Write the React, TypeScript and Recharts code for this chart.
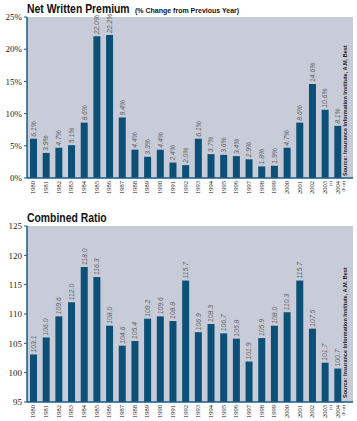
import { BarChart, Bar, XAxis, YAxis, CartesianGrid, LabelList } from 'recharts';

const years = [
  '1980', '1981', '1982', '1983', '1984', '1985', '1986', '1987', '1988', '1989',
  '1990', '1991', '1992', '1993', '1994', '1995', '1996', '1997', '1998', '1999',
  '2000', '2001', '2002', '2003', '2004',
];
const yearNotes = ['', '', '', '', '', '', '', '', '', '', '', '', '', '', '', '', '', '', '', '', '', '', '', '(e)', '(Fcst)'];

const premiumChange = [
  6.1, 3.9, 4.7, 5.1, 8.6, 22.0, 22.2, 9.4, 4.4, 3.3,
  4.4, 2.4, 2.0, 6.1, 3.7, 3.6, 3.4, 2.9, 1.8, 1.9,
  4.7, 8.6, 14.6, 10.6, 8.1,
];
const combinedRatio = [
  103.1, 106.0, 109.6, 112.0, 118.0, 116.3, 108.0, 104.6, 105.4, 109.2,
  109.6, 108.8, 115.7, 106.9, 108.3, 106.7, 105.8, 101.9, 105.9, 108.0,
  110.3, 115.7, 107.5, 101.7, 100.7,
];
const premiumTicks = [0, 5, 10, 15, 20, 25];
const ratioTicks = [95, 100, 105, 110, 115, 120, 125];

const premiumData = years.map((y, i) => ({ year: y, note: yearNotes[i], value: premiumChange[i] }));
const ratioData = years.map((y, i) => ({ year: y, note: yearNotes[i], value: combinedRatio[i] }));

const BAR = '#0c5078';
const BG = '#c8ccd8';
const EDGE = '#1b5a84';
const SERIF = '"Liberation Serif", "Times New Roman", serif';
const NARROW = '"Liberation Sans Narrow", "Liberation Sans", Arial, sans-serif';
const SOURCE = 'Source: Insurance Information Institute, A.M. Best';

// tick y arrives below the axis by tickSize + tickMargin, pull it back up
function YearTick(props: any) {
  const { x, y, payload, index } = props;
  const note = yearNotes[index];
  const ty = y - 5;
  return (
    <g>
      <text
        x={x}
        y={ty}
        transform={`rotate(-90 ${x} ${ty})`}
        dy={2}
        textAnchor="end"
        fontSize={6.5}
        fontFamily={SERIF}
        fill="#222"
      >
        {payload.value}
      </text>
      {note && (
        <text
          x={x + 5.5}
          y={ty}
          transform={`rotate(-90 ${x + 5.5} ${ty})`}
          dy={2}
          textAnchor="end"
          fontSize={4.5}
          fontFamily={SERIF}
          fill="#222"
        >
          {note}
        </text>
      )}
    </g>
  );
}

function makeValueLabel(suffix: string) {
  return (props: any) => {
    const { x, y, width, value } = props;
    const cx = x + width / 2;
    const ty = y - 2;
    return (
      <text
        x={cx}
        y={ty}
        dy={2.3}
        transform={`rotate(-90 ${cx} ${ty})`}
        textAnchor="start"
        fontSize={6.8}
        fontStyle="italic"
        fontFamily={NARROW}
        fill="#5f6266"
      >
        {value.toFixed(1) + suffix}
      </text>
    );
  };
}

interface PanelProps {
  data: Array<Record<string, any>>;
  height: number;
  top: number;
  bottom: number;
  domain: [number, number];
  ticks: number[];
  suffix: string;
}

function Panel({ data, height, top, bottom, domain, ticks, suffix }: PanelProps) {
  return (
    <BarChart
      width={357}
      height={height}
      data={data}
      margin={{ top, right: 4, left: 0, bottom }}
      barSize={7}
    >
      <CartesianGrid fill={BG} horizontal={false} vertical={false} />
      <XAxis
        dataKey="year"
        interval={0}
        height={20}
        padding={{ left: 0, right: 9 }}
        axisLine={{ stroke: EDGE, strokeWidth: 1.5 }}
        tickLine={false}
        tick={<YearTick />}
      />
      <XAxis xAxisId="top" orientation="top" dataKey="year" height={0} tick={false} tickLine={false} axisLine={{ stroke: EDGE, strokeWidth: 1.5 }} />
      <YAxis
        width={27}
        domain={domain}
        ticks={ticks}
        allowDataOverflow
        tickFormatter={(v) => `${v}${suffix}`}
        tick={{ fontSize: 9, fill: '#222', fontFamily: SERIF }}
        tickSize={3}
        tickLine={{ stroke: EDGE }}
        axisLine={{ stroke: EDGE, strokeWidth: 1.5 }}
      />
      <YAxis yAxisId="right" orientation="right" width={0} tick={false} tickLine={false} axisLine={{ stroke: EDGE, strokeWidth: 1.5 }} />
      <Bar dataKey="value" fill={BAR} isAnimationActive={false}>
        <LabelList dataKey="value" content={makeValueLabel(suffix)} />
      </Bar>
    </BarChart>
  );
}

export default function App() {
  return (
    <div style={{ position: 'absolute', left: 0, top: 0, width: 357, height: 421, background: '#fff' }}>
      <div style={{ position: 'absolute', left: 0, top: 0 }}>
        <Panel data={premiumData} height={200} top={17} bottom={2} domain={[0, 25]} ticks={premiumTicks} suffix="%" />
      </div>
      <div style={{ position: 'absolute', left: 0, top: 200 }}>
        <Panel data={ratioData} height={221} top={26} bottom={-1} domain={[95, 125]} ticks={ratioTicks} suffix="" />
      </div>
      <svg width={357} height={421} style={{ position: 'absolute', left: 0, top: 0, pointerEvents: 'none' }}>
        <text transform="translate(27 13) scale(0.8 1)" fontFamily={NARROW} fontWeight="bold" fontSize={13} fill="#111">
          Net Written Premium
        </text>
        <text x={135} y={13} fontFamily={NARROW} fontWeight="bold" fontSize={7} fill="#111">
          (% Change from Previous Year)
        </text>
        <text transform="translate(27 222) scale(0.8 1)" fontFamily={NARROW} fontWeight="bold" fontSize={13} fill="#111">
          Combined Ratio
        </text>
        <text x={347} y={176} transform="rotate(-90 347 176)" fontFamily={NARROW} fontWeight="bold" fontSize={5.5} fill="#222">
          {SOURCE}
        </text>
        <text x={347} y={398} transform="rotate(-90 347 398)" fontFamily={NARROW} fontWeight="bold" fontSize={5.5} fill="#222">
          {SOURCE}
        </text>
      </svg>
    </div>
  );
}
